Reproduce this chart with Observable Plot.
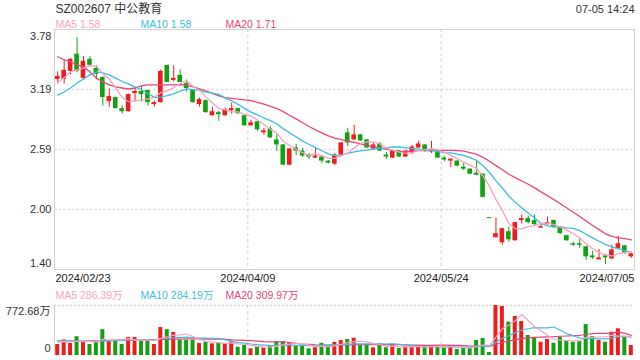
<!DOCTYPE html>
<html><head><meta charset="utf-8">
<script src="https://cdn.jsdelivr.net/npm/d3@7"></script>
<script src="https://cdn.jsdelivr.net/npm/@observablehq/plot@0.6"></script>
<style>
html,body{margin:0;padding:0;background:#fff;}
#chart{width:640px;height:360px;overflow:hidden;}
#chart svg{display:block;}
</style></head><body><div id="chart"></div>
<script>
const title = "SZ002607 中公教育";
const timestamp = "07-05 14:24";
const dateLabels = ["2024/02/23", "2024/04/09", "2024/05/24", "2024/07/05"];
const priceTickLabels = ["3.78", "3.19", "2.59", "2.00", "1.40"];
const priceMax = 3.78, priceMin = 1.40;
const volumeMax = 772.68;
const volumeTickLabels = ["772.68万", "0"];
const maLegend = ["MA5 1.58", "MA10 1.58", "MA20 1.71"];
const volLegend = ["MA5 286.39万", "MA10 284.19万", "MA20 309.97万"];

const open = [3.29,3.29,3.37,3.53,3.30,3.48,3.39,3.30,3.07,3.10, 2.99,2.97,3.15,3.16,3.17,3.04,3.06,3.42,3.28,3.32, 3.24,3.17,3.04,3.07,2.93,2.95,2.93,2.98,2.99,2.92, 2.83,2.86,2.76,2.79,2.68,2.63,2.44,2.60,2.57,2.53, 2.51,2.51,2.47,2.45,2.54,2.75,2.69,2.73,2.68,2.60, 2.64,2.53,2.51,2.57,2.52,2.56,2.61,2.63,2.57,2.57, 2.50,2.48,2.47,2.41,2.39,2.35,2.34,1.91,1.72,1.67, 1.77,1.69,1.89,1.90,1.88,1.815,1.85,1.88,1.81,1.73, 1.65,1.65,1.62,1.53,1.50,1.53,1.51,1.61,1.63,1.53];
const high = [3.36,3.48,3.49,3.70,3.51,3.51,3.42,3.31,3.19,3.11, 3.02,3.14,3.21,3.21,3.18,3.07,3.38,3.42,3.42,3.38, 3.28,3.18,3.10,3.08,3.01,2.97,3.00,3.05,3.00,2.93, 2.88,2.87,2.80,2.82,2.74,2.64,2.60,2.64,2.60,2.55, 2.60,2.53,2.48,2.55,2.66,2.80,2.83,2.74,2.69,2.66, 2.66,2.56,2.58,2.58,2.58,2.63,2.67,2.64,2.67,2.58, 2.52,2.49,2.48,2.45,2.40,2.47,2.35,1.91,1.91,1.81, 1.82,1.87,1.94,1.93,1.94,1.86,1.92,1.89,1.82,1.74, 1.67,1.70,1.63,1.58,1.60,1.55,1.64,1.73,1.64,1.56];
const low = [3.24,3.24,3.33,3.35,3.28,3.41,3.28,3.02,3.01,3.00, 2.94,2.96,3.06,3.06,3.02,3.01,3.05,3.26,3.26,3.26, 3.16,3.05,3.01,2.95,2.92,2.87,2.92,2.94,2.94,2.82, 2.82,2.77,2.73,2.70,2.57,2.43,2.43,2.53,2.51,2.49, 2.50,2.45,2.45,2.43,2.53,2.62,2.68,2.67,2.60,2.58, 2.57,2.49,2.50,2.51,2.51,2.54,2.60,2.56,2.55,2.50, 2.47,2.41,2.42,2.38,2.34,2.33,2.11,1.91,1.72,1.64, 1.67,1.68,1.85,1.85,1.83,1.81,1.84,1.81,1.75,1.68, 1.63,1.61,1.49,1.50,1.50,1.45,1.50,1.61,1.55,1.51];
const close = [3.31,3.37,3.48,3.37,3.46,3.43,3.34,3.11,3.11,3.00, 2.97,3.13,3.16,3.14,3.06,3.05,3.36,3.26,3.29,3.26, 3.20,3.06,3.08,2.96,2.96,2.94,2.98,2.99,2.95,2.83, 2.85,2.79,2.77,2.71,2.64,2.44,2.59,2.58,2.53,2.52, 2.52,2.48,2.46,2.53,2.65,2.66,2.73,2.68,2.61,2.63, 2.58,2.52,2.57,2.52,2.57,2.61,2.64,2.59,2.58,2.51, 2.49,2.49,2.43,2.40,2.35,2.34,2.12,1.91,1.75,1.80, 1.70,1.86,1.90,1.87,1.85,1.82,1.86,1.82,1.76,1.69, 1.645,1.645,1.53,1.52,1.51,1.52,1.59,1.65,1.57,1.55];
const volume = [170,240,185,290,200,170,200,400,225,235, 170,278,278,220,220,170,432,400,355,236, 236,236,185,205,180,190,180,216,128,155, 103,128,119,139,216,216,185,155,139,103, 120,188,130,203,230,247,267,155,155,119, 155,119,170,108,134,134,150,124,145,145, 113,155,93,113,113,232,263,46,772.68,757, 515,603,525,309,278,205,247,190,278,221, 205,221,479,294,232,205,360,412,294,155];

// moving-average values read off the chart before each window is complete (earlier history not shown)
const ma5Head = [3.26, 3.30, 3.36, 3.38];
const ma10Head = [3.13, 3.16, 3.20, 3.25, 3.29, 3.33, 3.36, 3.35, 3.33];
const ma20Head = [3.51, 3.48, 3.46, 3.43, 3.41, 3.36, 3.30, 3.26, 3.23, 3.21, 3.20, 3.19, 3.20, 3.22, 3.23, 3.23, 3.23, 3.23, 3.23];
const vma5Head = [205, 215, 210, 220];
const vma10Head = [230, 228, 226, 224, 222, 221, 220, 222, 226];
const vma20Head = [225, 224, 224, 224, 224, 225, 226, 228, 230, 232, 234, 236, 238, 240, 242, 244, 247, 250, 252];

const UP = "#ee1d1d", DOWN = "#13a013";
const C5 = "#f7a3bf", C10 = "#3dbfdf", C20 = "#e8457b";
const FONT = "'Liberation Sans', Arial, 'Noto Sans CJK SC', sans-serif";

function movingAverage(values, n, head) {
  return values.map((v, i) => i < n - 1 ? head[i] : d3.mean(values.slice(i - n + 1, i + 1)));
}
const N = close.length;
const ma5 = movingAverage(close, 5, ma5Head), ma10 = movingAverage(close, 10, ma10Head), ma20 = movingAverage(close, 20, ma20Head);
const vma5 = movingAverage(volume, 5, vma5Head), vma10 = movingAverage(volume, 10, vma10Head), vma20 = movingAverage(volume, 20, vma20Head);

const rows = d3.range(N).map(i => ({
  i, open: open[i], high: high[i], low: low[i], close: close[i], volume: volume[i],
  ma5: ma5[i], ma10: ma10[i], ma20: ma20[i], vma5: vma5[i], vma10: vma10[i], vma20: vma20[i],
  dir: close[i] > open[i] ? "up" : close[i] < open[i] ? "down" : (i > 0 && close[i] < close[i - 1] ? "down" : "up")
}));

const xDomain = [-0.5, N - 0.5];
const third = k => xDomain[0] + k * (xDomain[1] - xDomain[0]) / 3;
const gridX = [third(1), third(2)];
const dateTicks = dateLabels.map((label, k) => ({label, x: third(k)}));
const priceTicks = priceTickLabels.map((label, k) => ({label, value: priceMax - k * (priceMax - priceMin) / (priceTickLabels.length - 1)}));

const common = {
  width: 640, marginLeft: 54, marginRight: 6,
  x: {domain: xDomain, axis: null},
  color: {domain: ["up", "down"], range: [UP, DOWN]},
  style: {fontFamily: FONT, fontSize: "11px", background: "white", overflow: "visible", color: "#333"}
};

const pricePlot = Plot.plot({
  ...common,
  height: 284, marginTop: 29, marginBottom: 15,
  y: {domain: [priceMin, priceMax], axis: null},
  marks: [
    Plot.ruleY(priceTicks.slice(1, -1), {y: "value", stroke: "#e0e0e0", strokeWidth: 1.5, strokeDasharray: "2.5,2"}),
    Plot.ruleX(gridX, {stroke: "#cfcfcf", strokeDasharray: "3,3"}),
    Plot.frame({stroke: "#d2d2d2"}),
    Plot.ruleX(rows, {x: "i", y1: "low", y2: "high", stroke: "dir", strokeWidth: 1}),
    Plot.rect(rows, {x1: d => d.i - 0.36, x2: d => d.i + 0.36, y1: "open", y2: "close", fill: "dir", insetTop: -0.5, insetBottom: -0.5}),
    Plot.line(rows, {x: "i", y: "ma20", stroke: C20, strokeWidth: 1.3}),
    Plot.line(rows, {x: "i", y: "ma10", stroke: C10, strokeWidth: 1.3}),
    Plot.line(rows, {x: "i", y: "ma5", stroke: C5, strokeWidth: 1.3}),
    // price axis labels
    Plot.text(priceTicks.slice(0, 1), {y: "value", text: "label", frameAnchor: "left", textAnchor: "end", dx: -3, dy: 6.5, fill: "#333", fontSize: 11}),
    Plot.text(priceTicks.slice(1, -1), {y: "value", text: "label", frameAnchor: "left", textAnchor: "end", dx: -3, dy: 0, fill: "#333", fontSize: 11}),
    Plot.text(priceTicks.slice(-1), {y: "value", text: "label", frameAnchor: "left", textAnchor: "end", dx: -3, dy: -5.7, fill: "#333", fontSize: 11}),
    // date labels
    Plot.text(dateTicks.slice(0, 1), {x: "x", text: "label", frameAnchor: "bottom", textAnchor: "start", lineAnchor: "bottom", dx: 1, dy: 12.5, fill: "#222", fontSize: 11}),
    Plot.text(dateTicks.slice(1, -1), {x: "x", text: "label", frameAnchor: "bottom", textAnchor: "middle", lineAnchor: "bottom", dy: 12.5, fill: "#222", fontSize: 11}),
    Plot.text(dateTicks.slice(-1), {x: "x", text: "label", frameAnchor: "bottom", textAnchor: "end", lineAnchor: "bottom", dy: 12.5, fill: "#222", fontSize: 11}),
    // title, timestamp, MA legend
    Plot.text([title], {text: d => d, frameAnchor: "top-left", textAnchor: "start", lineAnchor: "bottom", dx: 1, dy: -17, fill: "#333", fontSize: 12}),
    Plot.text([timestamp], {text: d => d, frameAnchor: "top-right", textAnchor: "end", lineAnchor: "bottom", dy: -17, fill: "#333", fontSize: 11}),
    Plot.text([maLegend[0]], {text: d => d, frameAnchor: "top-left", textAnchor: "start", lineAnchor: "bottom", dx: 1, dy: -1.5, fill: C5, fontSize: 10.5}),
    Plot.text([maLegend[1]], {text: d => d, frameAnchor: "top-left", textAnchor: "start", lineAnchor: "bottom", dx: 86, dy: -1.5, fill: C10, fontSize: 10.5}),
    Plot.text([maLegend[2]], {text: d => d, frameAnchor: "top-left", textAnchor: "start", lineAnchor: "bottom", dx: 171, dy: -1.5, fill: C20, fontSize: 10.5})
  ]
});

const volumePlot = Plot.plot({
  ...common,
  height: 76, marginTop: 21, marginBottom: 5,
  y: {domain: [0, volumeMax], axis: null},
  marks: [
    Plot.ruleY([volumeMax], {stroke: "#d6d6d6", strokeWidth: 1.5, strokeDasharray: "2,2"}),
    Plot.ruleX(gridX, {stroke: "#cfcfcf", strokeDasharray: "3,3"}),
    Plot.ruleX([xDomain[0]], {stroke: "#d2d2d2"}),
    Plot.rect(rows, {x1: d => d.i - 0.31, x2: d => d.i + 0.31, y1: 0, y2: "volume", fill: "dir"}),
    Plot.line(rows, {x: "i", y: "vma20", stroke: C20, strokeWidth: 1.2}),
    Plot.line(rows, {x: "i", y: "vma10", stroke: C10, strokeWidth: 1.2}),
    Plot.line(rows, {x: "i", y: "vma5", stroke: C5, strokeWidth: 1.2}),
    Plot.text([volumeTickLabels[0]], {text: d => d, frameAnchor: "top-left", textAnchor: "end", lineAnchor: "bottom", dx: -4, dy: 9.5, fill: "#333", fontSize: 11}),
    Plot.text([volumeTickLabels[1]], {text: d => d, frameAnchor: "bottom-left", textAnchor: "end", lineAnchor: "bottom", dx: -4, dy: -3.5, fill: "#333", fontSize: 11}),
    Plot.text([volLegend[0]], {text: d => d, frameAnchor: "top-left", textAnchor: "start", lineAnchor: "bottom", dx: 1, dy: -7, fill: C5, fontSize: 10.5}),
    Plot.text([volLegend[1]], {text: d => d, frameAnchor: "top-left", textAnchor: "start", lineAnchor: "bottom", dx: 86, dy: -7, fill: C10, fontSize: 10.5}),
    Plot.text([volLegend[2]], {text: d => d, frameAnchor: "top-left", textAnchor: "start", lineAnchor: "bottom", dx: 171, dy: -7, fill: C20, fontSize: 10.5})
  ]
});

const root = document.getElementById("chart");
root.appendChild(pricePlot);
root.appendChild(volumePlot);
</script>
</body></html>
